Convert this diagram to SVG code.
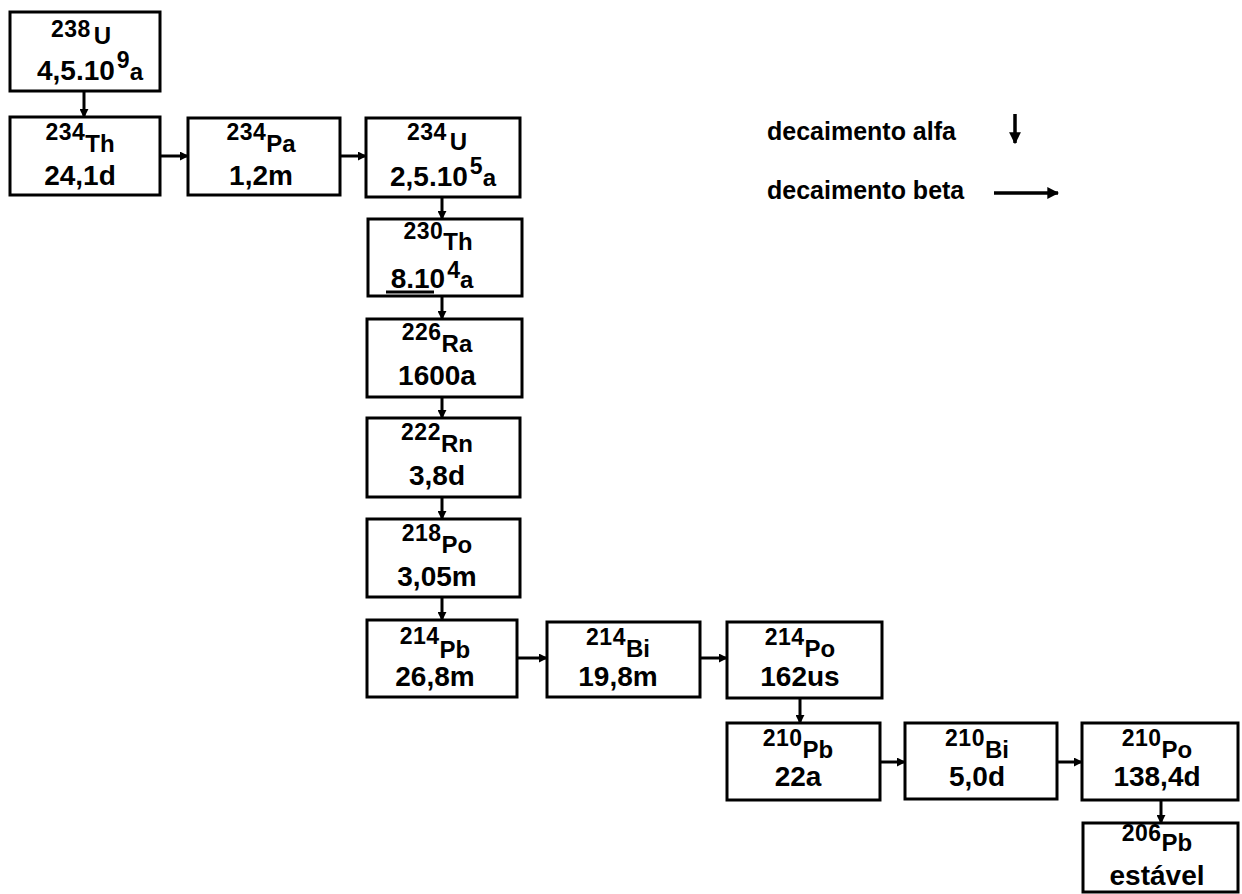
<svg xmlns="http://www.w3.org/2000/svg" width="1242" height="894" viewBox="0 0 1242 894">
<style>
.box{fill:#fff;stroke:#000;stroke-width:3}
text{font-family:"Liberation Sans",Arial,sans-serif;font-weight:bold;fill:#000;text-anchor:middle}
.m{font-size:23px;letter-spacing:0.5px}
.s{font-size:24px}
.v{font-size:28px}
.sup{font-size:23px}
.leg{font-size:25px;text-anchor:start}
.c{stroke:#000;stroke-width:3;fill:none}
.cl{stroke:#000;stroke-width:3.5;fill:none}
</style>
<defs>
<marker id="ah" viewBox="0 0 10 10" refX="9" refY="5" markerWidth="3" markerHeight="3" orient="auto" markerUnits="strokeWidth">
<path d="M0,0 L10,5 L0,10 Z" fill="#000"/>
</marker>
<marker id="ahL" viewBox="0 0 10 10" refX="9" refY="5" markerWidth="3.4" markerHeight="3.4" orient="auto" markerUnits="strokeWidth">
<path d="M0,0 L10,5 L0,10 Z" fill="#000"/>
</marker>
</defs>
<rect width="1242" height="894" fill="#fff"/>
<g id="connectors">
<line class="c" x1="84" y1="92" x2="84" y2="117" marker-end="url(#ah)"/>
<line class="c" x1="160" y1="156" x2="188" y2="156" marker-end="url(#ah)"/>
<line class="c" x1="340" y1="156" x2="366" y2="156" marker-end="url(#ah)"/>
<line class="c" x1="442" y1="197" x2="442" y2="219" marker-end="url(#ah)"/>
<line class="c" x1="442" y1="296" x2="442" y2="319" marker-end="url(#ah)"/>
<line class="c" x1="442" y1="397" x2="442" y2="418" marker-end="url(#ah)"/>
<line class="c" x1="442" y1="497" x2="442" y2="519" marker-end="url(#ah)"/>
<line class="c" x1="442" y1="597" x2="442" y2="620" marker-end="url(#ah)"/>
<line class="c" x1="517" y1="658" x2="547" y2="658" marker-end="url(#ah)"/>
<line class="c" x1="700" y1="658" x2="727" y2="658" marker-end="url(#ah)"/>
<line class="c" x1="800" y1="698" x2="800" y2="723" marker-end="url(#ah)"/>
<line class="c" x1="880" y1="762" x2="905" y2="762" marker-end="url(#ah)"/>
<line class="c" x1="1057" y1="762" x2="1082" y2="762" marker-end="url(#ah)"/>
<line class="c" x1="1161" y1="800" x2="1161" y2="823" marker-end="url(#ah)"/>
</g>
<g id="n238U"><rect class="box" x="10" y="12" width="150" height="79"/>
<text x="81" y="37"><tspan class="m">238</tspan><tspan class="s" dx="3" dy="7">U</tspan></text>
<text x="90" y="80"><tspan class="v">4,5.10</tspan><tspan class="sup" dx="2" dy="-12">9</tspan><tspan class="s" dy="12">a</tspan></text></g>
<g id="n234Th"><rect class="box" x="10" y="117" width="150" height="78"/>
<text x="80" y="140"><tspan class="m">234</tspan><tspan class="s" dy="12">Th</tspan></text>
<text x="80" y="185" class="v">24,1d</text></g>
<g id="n234Pa"><rect class="box" x="188" y="118" width="152" height="77"/>
<text x="261" y="140"><tspan class="m">234</tspan><tspan class="s" dy="12">Pa</tspan></text>
<text x="261" y="185" class="v">1,2m</text></g>
<g id="n234U"><rect class="box" x="366" y="118" width="154" height="79"/>
<text x="437" y="140"><tspan class="m">234</tspan><tspan class="s" dx="3" dy="10">U</tspan></text>
<text x="443" y="186"><tspan class="v">2,5.10</tspan><tspan class="sup" dx="2" dy="-12">5</tspan><tspan class="s" dy="12">a</tspan></text></g>
<g id="n230Th"><rect class="box" x="368" y="219" width="154" height="77"/>
<text x="438" y="239"><tspan class="m">230</tspan><tspan class="s" dy="11">Th</tspan></text>
<text x="432" y="288"><tspan class="v">8.10</tspan><tspan class="sup" dx="2" dy="-10">4</tspan><tspan class="s" dy="10">a</tspan></text>
<line x1="386" y1="292" x2="434" y2="292" stroke="#000" stroke-width="3"/></g>
<g id="n226Ra"><rect class="box" x="367" y="319" width="155" height="78"/>
<text x="437" y="340"><tspan class="m">226</tspan><tspan class="s" dy="12">Ra</tspan></text>
<text x="437" y="385" class="v">1600a</text></g>
<g id="n222Rn"><rect class="box" x="367" y="418" width="153" height="79"/>
<text x="437" y="440"><tspan class="m">222</tspan><tspan class="s" dy="12">Rn</tspan></text>
<text x="437" y="485" class="v">3,8d</text></g>
<g id="n218Po"><rect class="box" x="367" y="519" width="153" height="78"/>
<text x="437" y="541"><tspan class="m">218</tspan><tspan class="s" dy="12">Po</tspan></text>
<text x="437" y="586" class="v">3,05m</text></g>
<g id="n214Pb"><rect class="box" x="367" y="620" width="150" height="77"/>
<text x="435" y="644"><tspan class="m">214</tspan><tspan class="s" dy="14">Pb</tspan></text>
<text x="435" y="686" class="v">26,8m</text></g>
<g id="n214Bi"><rect class="box" x="547" y="622" width="153" height="75"/>
<text x="618" y="645"><tspan class="m">214</tspan><tspan class="s" dy="12">Bi</tspan></text>
<text x="618" y="686" class="v">19,8m</text></g>
<g id="n214Po"><rect class="box" x="727" y="622" width="155" height="76"/>
<text x="800" y="645"><tspan class="m">214</tspan><tspan class="s" dy="12">Po</tspan></text>
<text x="800" y="686" class="v">162us</text></g>
<g id="n210Pb"><rect class="box" x="727" y="723" width="153" height="77"/>
<text x="798" y="746"><tspan class="m">210</tspan><tspan class="s" dy="12">Pb</tspan></text>
<text x="798" y="786" class="v">22a</text></g>
<g id="n210Bi"><rect class="box" x="905" y="723" width="152" height="76"/>
<text x="977" y="746"><tspan class="m">210</tspan><tspan class="s" dy="12">Bi</tspan></text>
<text x="977" y="786" class="v">5,0d</text></g>
<g id="n210Po"><rect class="box" x="1082" y="723" width="156" height="77"/>
<text x="1157" y="746"><tspan class="m">210</tspan><tspan class="s" dy="12">Po</tspan></text>
<text x="1157" y="786" class="v">138,4d</text></g>
<g id="n206Pb"><rect class="box" x="1083" y="823" width="155" height="69"/>
<text x="1157" y="841"><tspan class="m">206</tspan><tspan class="s" dy="10">Pb</tspan></text>
<text x="1157" y="885" class="v">estável</text></g>
<g id="legend">
<text x="767" y="140" class="leg">decaimento alfa</text>
<line class="cl" x1="1015" y1="114" x2="1015" y2="143" marker-end="url(#ahL)"/>
<text x="767" y="199" class="leg">decaimento beta</text>
<line class="cl" x1="994" y1="193" x2="1058" y2="193" marker-end="url(#ahL)"/>
</g>
</svg>
